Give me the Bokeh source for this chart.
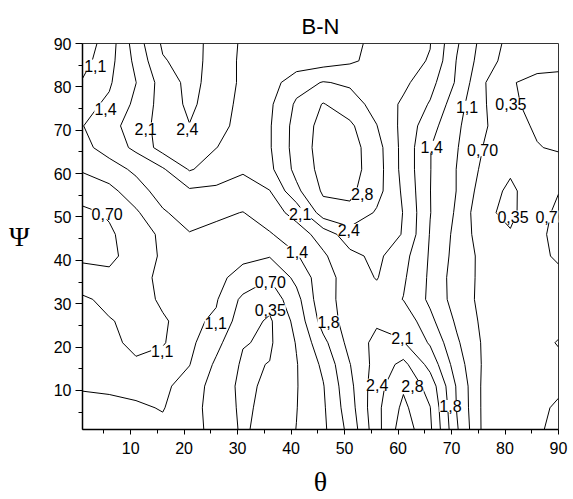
import numpy as np
from bokeh.plotting import figure
from bokeh.models import Range1d, FixedTicker, ColumnDataSource
from bokeh.core.properties import value
from bokeh.embed import file_html
from bokeh.resources import INLINE

# grid of the measured surface (theta along x, psi along y)
theta = [1, 6, 11, 16, 21, 26, 31, 36, 41, 46, 51, 56, 61, 66, 71, 76, 81, 86, 90]
psi = [1, 6, 11, 16, 21, 26, 31, 36, 41, 46, 51, 56, 61, 66, 71, 76, 81, 86, 90]

# z values, one row per psi value (bottom to top)
z_psi_01 = [0.90, 0.92, 0.95, 0.97, 0.85, 0.57, 0.30, 0.49, 0.705, 0.98, 1.51, 2.33, 3.00, 2.51, 1.44, 0.62, 0.58, 0.66, 0.78]
z_psi_06 = [0.95, 0.97, 1.00, 1.07, 0.83, 0.56, 0.28, 0.46, 0.69, 1.00, 1.60, 2.36, 2.88, 2.46, 1.38, 0.62, 0.58, 0.64, 0.74]
z_psi_11 = [1.08, 1.10, 1.15, 1.12, 0.91, 0.54, 0.27, 0.42, 0.68, 1.03, 1.66, 2.32, 2.75, 2.31, 1.36, 0.62, 0.55, 0.60, 0.65]
z_psi_16 = [1.15, 1.15, 1.08, 1.10, 1.06, 0.64, 0.30, 0.36, 0.68, 1.12, 1.74, 2.23, 2.55, 1.98, 1.22, 0.65, 0.55, 0.58, 0.62]
z_psi_21 = [1.20, 1.10, 1.00, 1.04, 1.13, 0.80, 0.37, 0.30, 0.72, 1.30, 1.87, 2.20, 2.12, 1.71, 1.10, 0.65, 0.55, 0.60, 0.72]
z_psi_26 = [1.12, 1.07, 0.97, 1.03, 1.12, 1.00, 0.50, 0.30, 0.81, 1.55, 1.90, 2.05, 2.00, 1.49, 0.99, 0.62, 0.55, 0.55, 0.60]
z_psi_31 = [1.10, 0.97, 0.97, 1.08, 1.15, 1.08, 0.62, 0.48, 0.93, 1.66, 1.85, 1.95, 1.74, 1.33, 0.89, 0.60, 0.55, 0.55, 0.58]
z_psi_36 = [0.85, 0.78, 0.90, 1.15, 1.20, 1.12, 0.95, 0.72, 1.14, 1.61, 1.90, 2.12, 1.80, 1.34, 0.87, 0.62, 0.58, 0.60, 0.65]
z_psi_41 = [0.63, 0.62, 0.85, 1.10, 1.15, 1.18, 1.11, 1.07, 1.37, 1.70, 2.01, 2.18, 1.87, 1.36, 0.92, 0.60, 0.55, 0.65, 0.73]
z_psi_46 = [0.55, 0.65, 0.87, 1.12, 1.38, 1.30, 1.28, 1.37, 1.59, 1.89, 2.30, 2.30, 2.08, 1.38, 0.95, 0.50, 0.38, 0.62, 0.80]
z_psi_51 = [0.62, 0.74, 1.00, 1.36, 1.55, 1.47, 1.39, 1.59, 1.87, 2.65, 2.72, 2.41, 2.09, 1.41, 1.00, 0.42, 0.27, 0.59, 0.76]
z_psi_56 = [0.88, 0.95, 1.25, 1.55, 1.70, 1.68, 1.65, 1.74, 2.37, 2.85, 2.87, 2.58, 2.04, 1.405, 1.04, 0.52, 0.28, 0.55, 0.69]
z_psi_61 = [1.08, 1.25, 1.47, 1.71, 2.13, 1.95, 1.78, 2.02, 2.55, 2.92, 2.95, 2.61, 1.99, 1.41, 1.04, 0.62, 0.40, 0.50, 0.55]
z_psi_66 = [1.30, 1.545, 1.83, 2.24, 2.30, 2.105, 1.98, 2.07, 2.59, 2.95, 2.95, 2.59, 1.99, 1.41, 1.07, 0.69, 0.50, 0.37, 0.30]
z_psi_71 = [1.39, 1.615, 1.935, 2.23, 2.44, 2.20, 2.00, 2.07, 2.58, 2.92, 2.87, 2.46, 2.00, 1.53, 1.11, 0.74, 0.49, 0.30, 0.27]
z_psi_76 = [1.30, 1.455, 1.83, 2.24, 2.52, 2.275, 2.00, 2.04, 2.505, 2.82, 2.60, 2.33, 2.04, 1.72, 1.19, 0.735, 0.41, 0.25, 0.27]
z_psi_81 = [1.08, 1.36, 1.745, 2.25, 2.55, 2.32, 2.03, 1.95, 2.30, 2.47, 2.40, 2.30, 2.18, 1.87, 1.35, 0.73, 0.37, 0.28, 0.30]
z_psi_86 = [0.92, 1.28, 1.84, 2.42, 2.58, 2.32, 2.03, 1.93, 1.90, 1.95, 2.05, 2.20, 2.20, 2.08, 1.38, 0.87, 0.55, 0.45, 0.40]
z_psi_90 = [0.85, 1.22, 1.925, 2.50, 2.60, 2.31, 2.05, 1.95, 1.90, 1.95, 2.05, 2.15, 2.20, 2.11, 1.44, 0.915, 0.60, 0.50, 0.45]

levels = [0.35, 0.70, 1.05, 1.40, 1.75, 2.10, 2.45, 2.80]

# contour level labels (as printed on the chart)
label_text = ["1,1", "1,4", "2,1", "2,4", "0,70", "1,1", "1,1", "0,70", "0,35", "1,4",
              "2,1", "2,4", "2,8", "1,8", "2,1", "2,4", "2,8", "1,8", "1,4", "1,1",
              "0,70", "0,35", "0,35", "0,70"]
label_theta = [3.4, 5.3, 12.8, 20.6, 5.6, 15.9, 25.9, 36.1, 36.1, 41.1,
               41.7, 50.8, 53.3, 47.0, 60.8, 56.1, 62.7, 69.8, 66.3, 72.9,
               75.8, 81.1, 81.5, 88.6]
label_psi = [84.9, 75.0, 70.4, 70.4, 50.8, 19.0, 25.5, 35.1, 28.6, 42.0,
             50.8, 47.0, 55.4, 25.9, 22.1, 11.3, 11.0, 6.4, 66.2, 75.4,
             65.4, 76.1, 50.1, 50.1]

tick_values = [10, 20, 30, 40, 50, 60, 70, 80, 90]
minor_values = [5, 15, 25, 35, 45, 55, 65, 75, 85]

Z = np.array([z_psi_01, z_psi_06, z_psi_11, z_psi_16, z_psi_21, z_psi_26, z_psi_31,
              z_psi_36, z_psi_41, z_psi_46, z_psi_51, z_psi_56, z_psi_61, z_psi_66,
              z_psi_71, z_psi_76, z_psi_81, z_psi_86, z_psi_90])
X, Y = np.meshgrid(np.array(theta, dtype=float), np.array(psi, dtype=float))

p = figure(width=573, height=499, x_range=Range1d(1, 90), y_range=Range1d(1, 90),
           output_backend="svg", toolbar_location=None, title="B-N")
p.min_border_left = 82
p.min_border_right = 15
p.min_border_top = 43
p.min_border_bottom = 69
p.background_fill_color = "white"
p.border_fill_color = "white"
p.outline_line_color = "#333333"
p.outline_line_width = 1
p.grid.visible = False

p.title.align = "center"
p.title.text_font = "Liberation Sans"
p.title.text_font_size = "22px"
p.title.text_font_style = "normal"
p.title.text_color = "black"

p.contour(X, Y, Z, levels, line_color="black", line_width=1)

src = ColumnDataSource(dict(x=label_theta, y=label_psi, t=label_text))
p.text(x="x", y="y", text="t", source=src, text_font=value("Liberation Sans"),
       text_font_size="16px", text_align="center", text_baseline="middle",
       text_color="black", background_fill_color="white")

for ax in (p.xaxis[0], p.yaxis[0]):
    ax.ticker = FixedTicker(ticks=tick_values, minor_ticks=minor_values)
    ax.major_label_text_font = "Liberation Sans"
    ax.major_label_text_font_size = "16px"
    ax.major_label_text_color = "black"
    ax.axis_line_width = 1.5
    ax.axis_line_color = "black"
    ax.major_tick_in = 0
    ax.minor_tick_in = 0
    ax.major_tick_line_color = "black"
    ax.minor_tick_line_color = "black"
    ax.axis_label_text_font = "Liberation Serif"
    ax.axis_label_text_font_size = "28px"
    ax.axis_label_text_font_style = "normal"
    ax.axis_label_text_color = "black"

p.xaxis.major_tick_out = 5
p.xaxis.minor_tick_out = 4
p.xaxis.major_label_standoff = 7
p.yaxis.major_tick_out = 7
p.yaxis.minor_tick_out = 4
p.yaxis.major_label_standoff = 4
p.xaxis.axis_label = "θ"
p.xaxis.axis_label_standoff = 9
p.yaxis.axis_label = "Ψ"
p.yaxis.axis_label_standoff = 21
try:
    p.yaxis.axis_label_orientation = "horizontal"
except Exception:
    pass

open("out.html", "w").write(file_html(p, INLINE))
